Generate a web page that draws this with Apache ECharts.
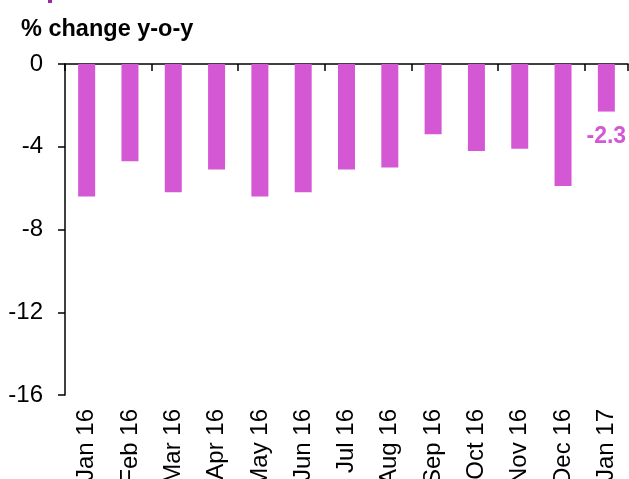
<!DOCTYPE html>
<html>
<head>
<meta charset="utf-8">
<script src="https://cdn.jsdelivr.net/npm/echarts@6/dist/echarts.min.js"></script>
<style>
  html, body { margin: 0; padding: 0; background: #fff; }
  #chart { width: 629px; height: 479px; }
</style>
</head>
<body>
<div id="chart"></div>
<script>
  // months
  var categories = ['Jan 16', 'Feb 16', 'Mar 16', 'Apr 16', 'May 16', 'Jun 16',
    'Jul 16', 'Aug 16', 'Sep 16', 'Oct 16', 'Nov 16', 'Dec 16', 'Jan 17'];
  // % change y-o-y
  var values = [-6.4, -4.7, -6.2, -5.1, -6.4, -6.2, -5.1, -5.0, -3.4, -4.2, -4.1, -5.9, -2.3];
  var yTicks = [0, -4, -8, -12, -16];

  var barColor = '#d458d4';
  var font = 'Arial, "Liberation Sans", sans-serif';

  var chart = echarts.init(document.getElementById('chart'));

  var seriesData = values.map(function (v, i) {
    if (i === values.length - 1) {
      return {
        value: v,
        label: {
          show: true,
          position: 'bottom',
          distance: 14,
          color: barColor,
          fontSize: 23,
          fontWeight: 'bold',
          fontFamily: font,
          formatter: function (p) { return p.value.toFixed(1); }
        }
      };
    }
    return v;
  });

  var option = {
    animation: false,
    title: {
      text: '% change y-o-y',
      left: 16,
      top: 13,
      textStyle: { color: '#000', fontSize: 23.5, fontWeight: 'bold', fontFamily: font }
    },
    graphic: [{
      type: 'rect',
      shape: { x: 48, y: 0, width: 4, height: 3 },
      style: { fill: '#9b2a9b' }
    }],
    grid: { left: 65, right: 1, top: 64, bottom: 84, containLabel: false, outerBoundsMode: 'none' },
    xAxis: [{
      type: 'category',
      data: categories,
      position: 'top',
      axisLine: { show: true, lineStyle: { color: '#000', width: 1.5 } },
      axisTick: { show: true, inside: true, length: 7, lineStyle: { color: '#000', width: 1.5 } },
      axisLabel: { show: false }
    }, {
      type: 'category',
      data: categories,
      position: 'bottom',
      axisLine: { show: false },
      axisTick: { show: false },
      axisLabel: {
        rotate: 90,
        margin: 14,
        interval: 0,
        color: '#000',
        fontSize: 24,
        fontFamily: font
      }
    }],
    yAxis: {
      type: 'value',
      min: yTicks[yTicks.length - 1],
      max: yTicks[0],
      interval: 4,
      axisLine: { show: true, lineStyle: { color: '#000', width: 1.5 } },
      axisTick: { show: true, length: 7, lineStyle: { color: '#000', width: 1.5 } },
      axisLabel: { margin: 22, color: '#000', fontSize: 24, fontFamily: font },
      splitLine: { show: false }
    },
    series: [{
      type: 'bar',
      xAxisIndex: 0,
      data: seriesData,
      barWidth: 17,
      itemStyle: { color: barColor }
    }]
  };

  chart.setOption(option);
</script>
</body>
</html>
